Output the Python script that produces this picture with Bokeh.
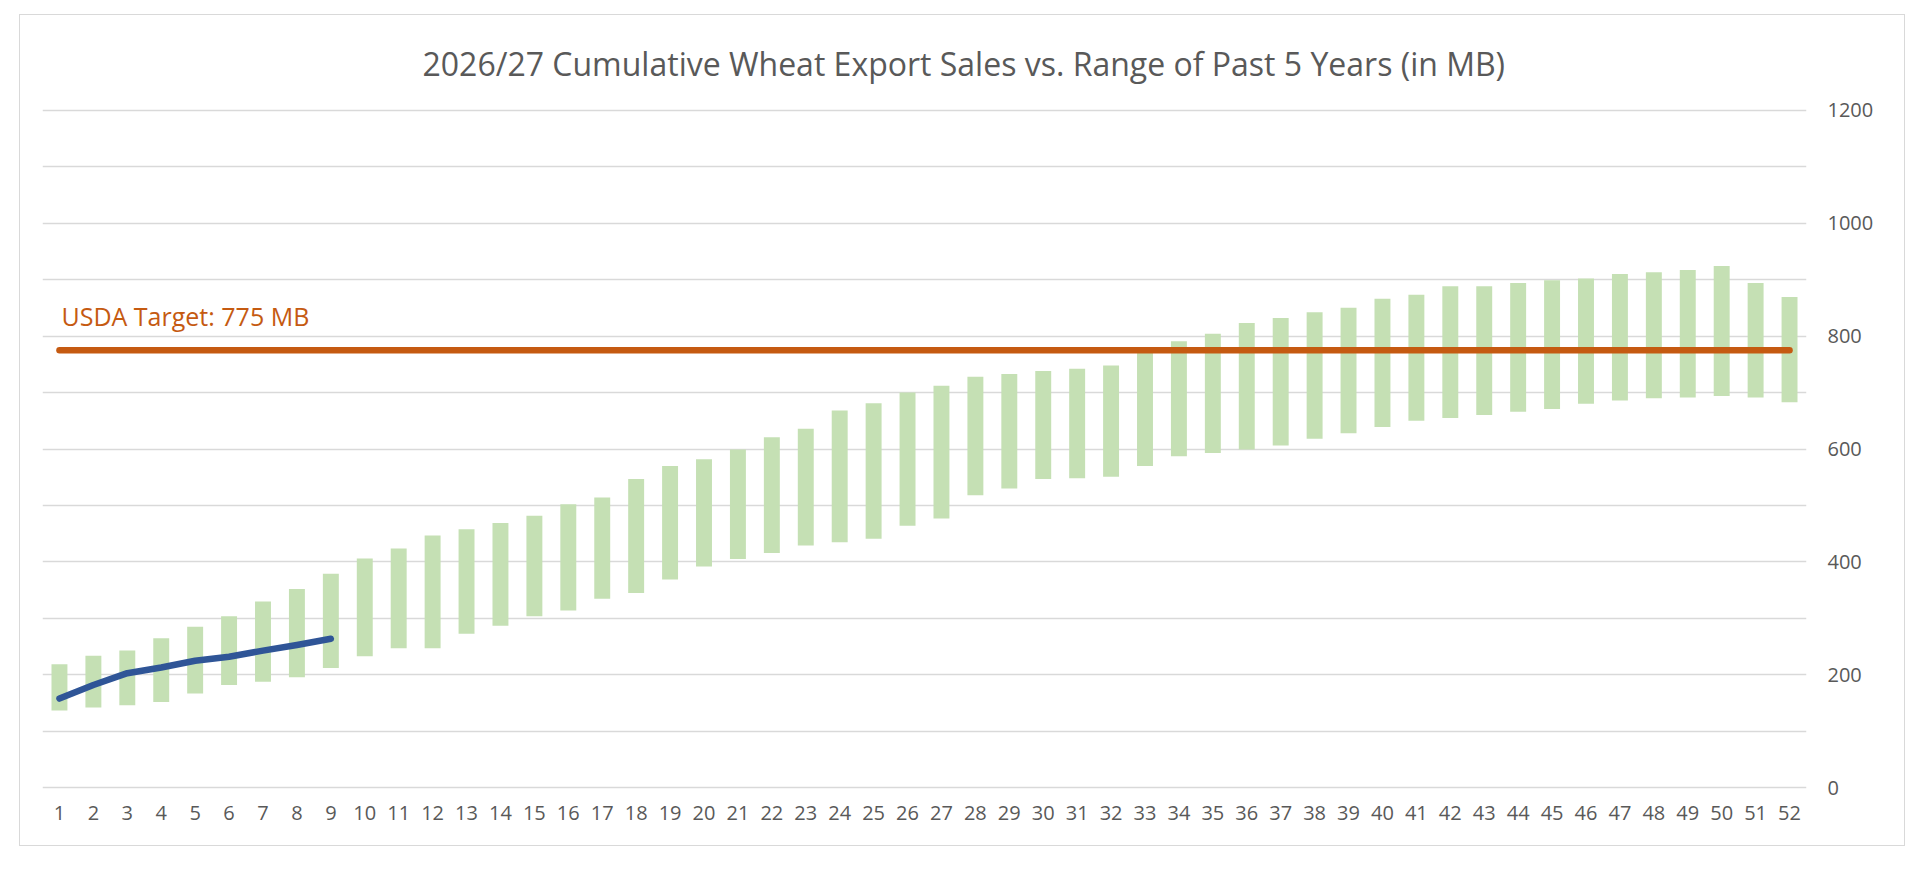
from bokeh.plotting import figure
from bokeh.models import Range1d, FixedTicker, LinearAxis, Label, ColumnDataSource
from bokeh.embed import file_html
from bokeh.resources import INLINE

# ---- data ----
weeks = list(range(1, 53))
range_low = [137, 142, 146, 152, 167, 182, 188, 196, 212, 233, 247, 247, 273, 287, 304, 314,
             335, 345, 369, 392, 405, 416, 429, 435, 441, 464, 477, 518, 530, 547, 548, 551,
             570, 587, 593, 599, 606, 618, 628, 639, 650, 655, 660, 666, 671, 680, 686, 690,
             691, 694, 691, 683]
range_high = [219, 234, 243, 265, 285, 304, 330, 352, 379, 406, 424, 447, 458, 469, 482, 502,
              514, 547, 570, 582, 599, 621, 636, 668, 681, 700, 712, 728, 733, 738, 742, 748,
              771, 791, 804, 823, 832, 842, 850, 866, 873, 888, 888, 894, 899, 902, 910, 913,
              917, 924, 894, 869]
current_weeks = [1, 2, 3, 4, 5, 6, 7, 8, 9]
current_sales = [158, 182, 203, 213, 225, 232, 243, 253, 264]
usda_target = 775
target_label = "USDA Target: 775 MB"
y_label_ticks = [0, 200, 400, 600, 800, 1000, 1200]
y_grid_ticks = list(range(0, 1201, 100))
title_text = "2026/27 Cumulative Wheat Export Sales vs. Range of Past 5 Years (in MB)"

FONT = "Open Sans"
GREY = "#595959"

p = figure(width=1886, height=832, output_backend="svg", toolbar_location=None,
           x_range=Range1d(0.5, 52.5), y_range=Range1d(-3, 1203),
           y_axis_location=None, x_axis_location="below",
           min_border_left=22, min_border_right=100, min_border_top=91, min_border_bottom=58,
           background_fill_color="white", border_fill_color="white")
p.styles = {"border": "1px solid #D9D9D9", "box-sizing": "border-box",
            "position": "absolute", "left": "19px", "top": "14px"}
p.outline_line_color = None

p.title.text = title_text
p.title.align = "left"
p.title.offset = 380
p.title.vertical_align = "bottom"
p.title.text_font = FONT
p.title.text_font_size = "32px"
p.title.text_font_style = "normal"
p.title.text_color = GREY
p.title.standoff = 48

# right axis
yax = LinearAxis(ticker=FixedTicker(ticks=y_label_ticks))
yax.axis_line_color = None
yax.major_tick_line_color = None
yax.minor_tick_line_color = None
yax.major_tick_out = 0
yax.major_tick_in = 0
yax.major_label_standoff = 21
yax.major_label_text_font = FONT
yax.major_label_text_font_size = "20px"
yax.major_label_text_color = GREY
p.add_layout(yax, "right")

xax = p.xaxis[0]
xax.ticker = FixedTicker(ticks=weeks)
xax.axis_line_color = None
xax.major_tick_line_color = None
xax.minor_tick_line_color = None
xax.major_tick_out = 0
xax.major_tick_in = 0
xax.major_label_standoff = 16
xax.major_label_text_font = FONT
xax.major_label_text_font_size = "20px"
xax.major_label_text_color = GREY

p.xgrid.visible = False
p.ygrid.ticker = FixedTicker(ticks=y_grid_ticks)
p.ygrid.grid_line_color = "#D9D9D9"
p.ygrid.grid_line_width = 1.6

src = ColumnDataSource(dict(week=weeks, low=range_low, high=range_high))
p.vbar(x="week", bottom="low", top="high", width=0.47, source=src,
       fill_color="#C5E0B4", line_color=None)

p.line(x=[weeks[0], weeks[-1]], y=[usda_target, usda_target], line_color="#C55A11",
       line_width=6.5, line_cap="round")

p.line(x=current_weeks, y=current_sales, line_color="#2F5597", line_width=6.5,
       line_cap="round", line_join="round")

p.add_layout(Label(x=weeks[0], y=usda_target, x_offset=2, y_offset=34, text=target_label,
                   text_font=FONT, text_font_size="25px", text_color="#C55A11",
                   text_baseline="middle"))

open("out.html", "w").write(file_html(p, INLINE))
